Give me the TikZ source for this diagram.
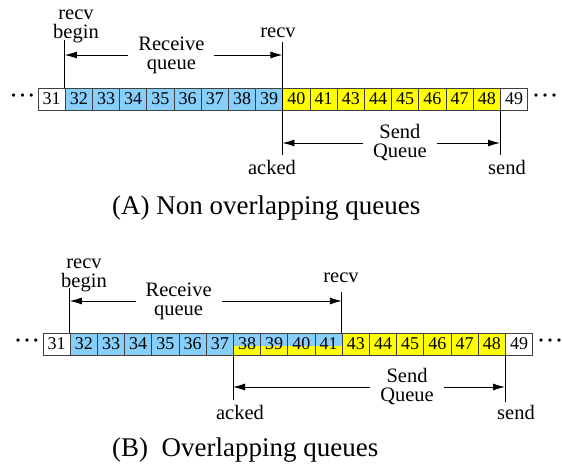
\documentclass[tikz,border=0pt]{standalone}
\usepackage{fontspec}
\setmainfont{Liberation Serif}
\usetikzlibrary{arrows.meta}

\definecolor{recvblue}{RGB}{135,206,250}
\definecolor{sendyellow}{RGB}{255,255,0}
\definecolor{cellline}{RGB}{64,64,64}

\tikzset{
  cell/.style={draw=cellline, line width=0.8pt, minimum width=27.2pt, minimum height=22pt, inner sep=0pt, font=\fontsize{18}{18}\selectfont},
  free/.style={fill=white},
  recvq/.style={fill=recvblue},
  sendq/.style={fill=sendyellow},
  bothq/.style={},
  ptr/.style={line width=0.9pt},
  span/.style={line width=0.9pt, {Latex[length=12pt,width=7pt]}-{Latex[length=12pt,width=7pt]}},
  lbl/.style={align=center, inner sep=0pt, font=\fontsize{20.5}{19}\selectfont},
  gap/.style={lbl, fill=white, inner xsep=10pt},
  dots/.style={inner sep=0pt, font=\fontsize{27}{27}\selectfont},
  caption/.style={anchor=west, inner sep=0pt, font=\fontsize{27}{30}\selectfont}
}

\begin{document}
\begin{tikzpicture}[x=1pt,y=-1pt]
\useasboundingbox (0,0) rectangle (562,465);

% (A) queues side by side
\foreach \n/\s [count=\i from 0] in {31/free,32/recvq,33/recvq,34/recvq,35/recvq,36/recvq,37/recvq,38/recvq,39/recvq,40/sendq,41/sendq,43/sendq,44/sendq,45/sendq,46/sendq,47/sendq,48/sendq,49/free} {
  \node[cell,\s] (a\i) at ({38+(\i+0.5)*27.2},99) {\n};
}
\node[dots] (dotsAl) at (22.5,99) {···};
\node[dots] (dotsAr) at (545,99) {···};

\coordinate (rbA) at (a1.north west |- 0,40);
\coordinate (rvA) at (a9.north west |- 0,42);
\coordinate (ackA) at (a9.north west |- 0,155);
\coordinate (sdA) at (a17.south west |- 0,155);
\draw[ptr] (rbA) -- (a1.north west);
\draw[ptr] (rvA) -- (ackA);
\draw[ptr] (a17.south west) -- (sdA);

\coordinate (rqAl) at (a1.north west |- 0,55);
\coordinate (rqAr) at (a9.north west |- 0,55);
\coordinate (sqAl) at (a9.north west |- 0,143);
\coordinate (sqAr) at (a17.south west |- 0,143);
\draw[span] (rqAl) -- node[gap,pos=0.49] (rqA) {Receive\\queue} (rqAr);
\draw[span] (sqAl) -- node[gap,pos=0.54] (sqA) {Send\\Queue} (sqAr);

\node[lbl] (rbAl) at (76,26.5) {recv\\begin};
\node[lbl] (rvAl) at (278,33) {recv};
\node[lbl] (ackAl) at (272,167.5) {acked};
\node[lbl] (sdAl) at (507,167.5) {send};
\node[caption] (capA) at (112,208.5) {(A) Non overlapping queues};

% (B) queues sharing 38-41
\foreach \i in {7,...,10} {
  \fill[recvblue] ({43+\i*27.2},333) rectangle ({43+(\i+1)*27.2},345.5);
  \fill[sendyellow] ({43+\i*27.2},345.5) rectangle ({43+(\i+1)*27.2},355);
}
\foreach \n/\s [count=\i from 0] in {31/free,32/recvq,33/recvq,34/recvq,35/recvq,36/recvq,37/recvq,38/bothq,39/bothq,40/bothq,41/bothq,43/sendq,44/sendq,45/sendq,46/sendq,47/sendq,48/sendq,49/free} {
  \node[cell,\s] (b\i) at ({43+(\i+0.5)*27.2},344) {\n};
}
\node[dots] (dotsBl) at (27,344) {···};
\node[dots] (dotsBr) at (550,344) {···};

\coordinate (rbB) at (b1.north west |- 0,288);
\coordinate (rvB) at (b11.north west |- 0,292);
\coordinate (ackB) at (b7.south west |- 0,400);
\coordinate (sdB) at (b17.south west |- 0,402);
\draw[ptr] (rbB) -- (b1.north west);
\draw[ptr] (rvB) -- (b11.north west);
\draw[ptr] (b7.south west) -- (ackB);
\draw[ptr] (b17.south west) -- (sdB);

\coordinate (rqBl) at (b1.north west |- 0,301);
\coordinate (rqBr) at (b11.north west |- 0,301);
\coordinate (sqBl) at (b7.south west |- 0,387);
\coordinate (sqBr) at (b17.south west |- 0,387);
\draw[span] (rqBl) -- node[gap,pos=0.40] (rqB) {Receive\\queue} (rqBr);
\draw[span] (sqBl) -- node[gap,pos=0.64] (sqB) {Send\\Queue} (sqBr);

\node[lbl] (rbBl) at (84,275.5) {recv\\begin};
\node[lbl] (rvBl) at (341,277.5) {recv};
\node[lbl] (ackBl) at (240,412.5) {acked};
\node[lbl] (sdBl) at (516,412) {send};
\node[caption] (capB) at (112,450) {(B)\ \ Overlapping queues};

\end{tikzpicture}
\end{document}
